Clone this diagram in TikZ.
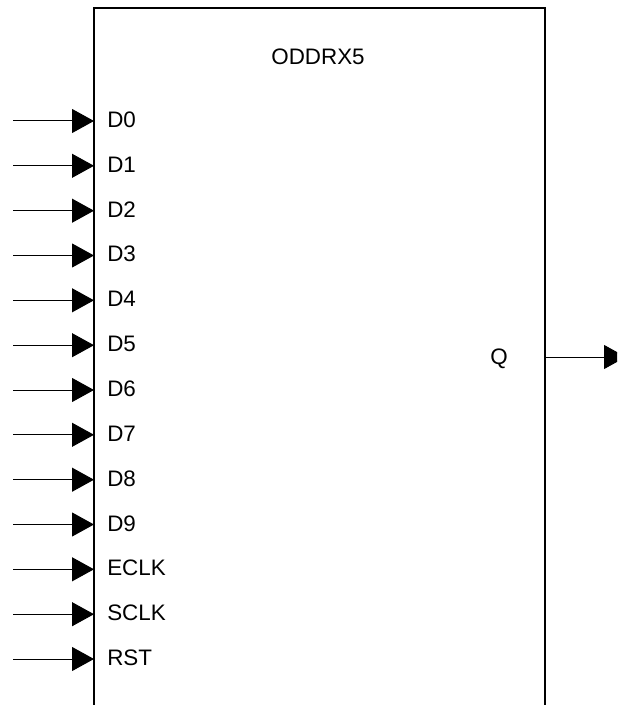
\documentclass[tikz,border=0pt]{standalone}
\usepackage{fontspec}
\setmainfont{Liberation Sans}
\usetikzlibrary{arrows.meta}

\tikzset{
  pin/.style={line width=0.75pt,-{Triangle[length=16.5pt,width=18pt]}},
  lbl/.style={anchor=base west,inner sep=0pt,font=\fontsize{16.8}{20}\selectfont},
}

\begin{document}
\begin{tikzpicture}[x=0.75pt,y=-0.75pt]
\useasboundingbox (0,0) rectangle (617,705);
\clip (0,0) rectangle (617,705);
% block
\draw[line width=1pt] (94,720) -- (94,8) -- (545,8) -- (545,720);
\node[lbl,anchor=base] (title) at (318,65) {ODDRX5};
% inputs
\coordinate (sD0) at (13,121); \coordinate (pD0) at (94,121);
\draw[pin] (sD0) -- (pD0);
\node[lbl] (lD0) at (107,127.5) {D0};
\coordinate (sD1) at (13,165.8); \coordinate (pD1) at (94,165.8);
\draw[pin] (sD1) -- (pD1);
\node[lbl] (lD1) at (107,172.3) {D1};
\coordinate (sD2) at (13,210.7); \coordinate (pD2) at (94,210.7);
\draw[pin] (sD2) -- (pD2);
\node[lbl] (lD2) at (107,217.2) {D2};
\coordinate (sD3) at (13,255.5); \coordinate (pD3) at (94,255.5);
\draw[pin] (sD3) -- (pD3);
\node[lbl] (lD3) at (107,262) {D3};
\coordinate (sD4) at (13,300.3); \coordinate (pD4) at (94,300.3);
\draw[pin] (sD4) -- (pD4);
\node[lbl] (lD4) at (107,306.8) {D4};
\coordinate (sD5) at (13,345.2); \coordinate (pD5) at (94,345.2);
\draw[pin] (sD5) -- (pD5);
\node[lbl] (lD5) at (107,351.7) {D5};
\coordinate (sD6) at (13,390); \coordinate (pD6) at (94,390);
\draw[pin] (sD6) -- (pD6);
\node[lbl] (lD6) at (107,396.5) {D6};
\coordinate (sD7) at (13,434.8); \coordinate (pD7) at (94,434.8);
\draw[pin] (sD7) -- (pD7);
\node[lbl] (lD7) at (107,441.3) {D7};
\coordinate (sD8) at (13,479.7); \coordinate (pD8) at (94,479.7);
\draw[pin] (sD8) -- (pD8);
\node[lbl] (lD8) at (107,486.2) {D8};
\coordinate (sD9) at (13,524.5); \coordinate (pD9) at (94,524.5);
\draw[pin] (sD9) -- (pD9);
\node[lbl] (lD9) at (107,531) {D9};
\coordinate (sECLK) at (13,569.3); \coordinate (pECLK) at (94,569.3);
\draw[pin] (sECLK) -- (pECLK);
\node[lbl] (lECLK) at (107,575.8) {ECLK};
\coordinate (sSCLK) at (13,614.2); \coordinate (pSCLK) at (94,614.2);
\draw[pin] (sSCLK) -- (pSCLK);
\node[lbl] (lSCLK) at (107,620.7) {SCLK};
\coordinate (sRST) at (13,659); \coordinate (pRST) at (94,659);
\draw[pin] (sRST) -- (pRST);
\node[lbl] (lRST) at (107,665.5) {RST};
% output
\coordinate (pQ) at (545,357); \coordinate (tQ) at (626,357);
\draw[pin] (pQ) -- (tQ);
\node[lbl,anchor=base] (lQ) at (499,364.5) {Q};
\end{tikzpicture}
\end{document}
